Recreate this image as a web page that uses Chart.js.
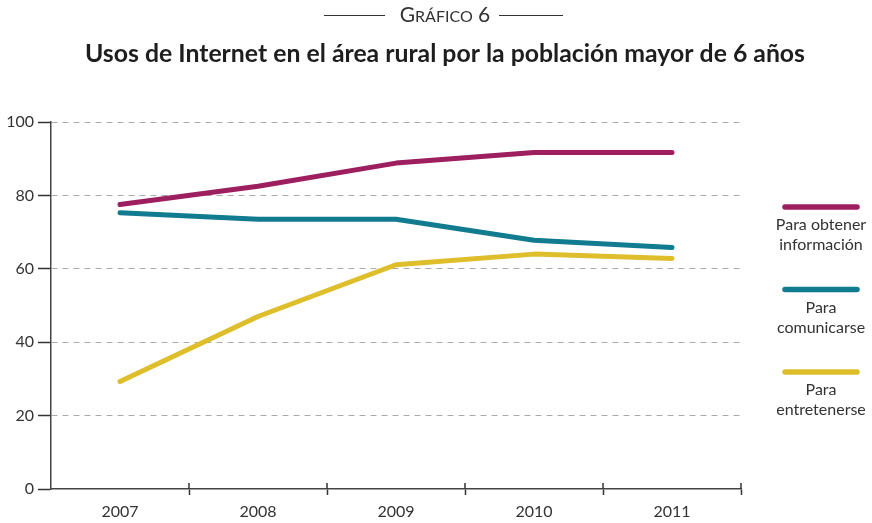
<!DOCTYPE html>
<html><head><meta charset="utf-8">
<script src="https://cdn.jsdelivr.net/npm/chart.js@4"></script>
<style>html,body{margin:0;padding:0;background:#fff}#wrap{width:872px;height:523px}</style>
</head><body><div id="wrap"><canvas id="c" width="872" height="523"></canvas></div>
<script>
const chartKicker = ['G', 'RÁFICO', ' 6'];
const chartTitle = 'Usos de Internet en el área rural por la población mayor de 6 años';
const years = ['2007', '2008', '2009', '2010', '2011'];
const seriesNames = [['Para obtener', 'información'], ['Para', 'comunicarse'], ['Para', 'entretenerse']];
const informacion = [77.5, 82.5, 88.8, 91.7, 91.7];
const comunicarse = [75.3, 73.5, 73.5, 67.8, 65.8];
const entretenerse = [29.3, 47.0, 61.1, 64.0, 62.8];
const yTicks = [0, 20, 40, 60, 80, 100];
const colors = ['#9d1f5f', '#117b8f', '#debe2a'];

const FONT = 'Lato, "Open Sans", sans-serif';
const TEXT = '#333333';

const titlePlugin = {
  id: 'titles',
  afterDraw(chart) {
    const ctx = chart.ctx;
    ctx.save();
    ctx.fillStyle = TEXT;
    ctx.textBaseline = 'alphabetic';
    // kicker in small caps
    const big = '21px ' + FONT, small = '16px ' + FONT;
    ctx.font = big; const w0 = ctx.measureText(chartKicker[0]).width;
    ctx.font = small; const w1 = ctx.measureText(chartKicker[1]).width;
    ctx.font = big; const w2 = ctx.measureText(chartKicker[2]).width;
    const total = w0 + w1 + w2;
    const cx = 445, by = 22;
    let x = cx - total / 2;
    ctx.textAlign = 'left';
    ctx.font = big; ctx.fillText(chartKicker[0], x, by); x += w0;
    ctx.font = small; ctx.fillText(chartKicker[1], x, by); x += w1;
    ctx.font = big; ctx.fillText(chartKicker[2], x, by);
    ctx.strokeStyle = '#333'; ctx.lineWidth = 1;
    ctx.beginPath();
    ctx.moveTo(324, 15.5); ctx.lineTo(385, 15.5);
    ctx.moveTo(499, 15.5); ctx.lineTo(563, 15.5);
    ctx.stroke();
    // title
    ctx.fillStyle = '#1e1e1e';
    ctx.font = 'bold 24.8px ' + FONT;
    ctx.textAlign = 'center';
    ctx.fillText(chartTitle, cx, 62);
    ctx.restore();
  }
};

const legendPlugin = {
  id: 'sideLegend',
  afterDraw(chart) {
    const ctx = chart.ctx;
    const area = chart.chartArea;
    const cx = area.right + 80;
    ctx.save();
    chart.data.datasets.forEach((ds, i) => {
      const y = 207 + i * 82.5;
      ctx.strokeStyle = ds.borderColor;
      ctx.lineWidth = 5.5;
      ctx.lineCap = 'round';
      ctx.beginPath();
      ctx.moveTo(cx - 36, y); ctx.lineTo(cx + 36, y);
      ctx.stroke();
      ctx.fillStyle = TEXT;
      ctx.font = '16px ' + FONT;
      ctx.textAlign = 'center';
      ctx.textBaseline = 'middle';
      ds.label.forEach((line, j) => ctx.fillText(line, cx, y + 18 + j * 20));
    });
    ctx.restore();
  }
};

const xTickPlugin = {
  id: 'xTicksUp',
  afterDraw(chart) {
    const xs = chart.scales.x;
    const ctx = chart.ctx;
    const b = chart.chartArea.bottom;
    ctx.save();
    ctx.strokeStyle = '#333'; ctx.lineWidth = 1.5;
    ctx.beginPath();
    for (let i = 1; i <= years.length; i++) {
      const px = i < years.length
        ? (xs.getPixelForValue(i - 1) + xs.getPixelForValue(i)) / 2
        : xs.getPixelForValue(i - 1) + (xs.getPixelForValue(1) - xs.getPixelForValue(0)) / 2;
      ctx.moveTo(px, b - 6); ctx.lineTo(px, b);
    }
    ctx.stroke();
    ctx.restore();
  }
};

new Chart(document.getElementById('c'), {
  type: 'line',
  data: {
    labels: years,
    datasets: [
      { label: seriesNames[0], data: informacion, borderColor: colors[0] },
      { label: seriesNames[1], data: comunicarse, borderColor: colors[1] },
      { label: seriesNames[2], data: entretenerse, borderColor: colors[2] }
    ]
  },
  options: {
    responsive: false,
    animation: false,
    devicePixelRatio: 1,
    layout: { padding: { top: 122, right: 131, left: 0, bottom: 0 } },
    elements: {
      line: { borderWidth: 5, borderCapStyle: 'round', borderJoinStyle: 'round', tension: 0, fill: false },
      point: { radius: 0, hoverRadius: 0 }
    },
    plugins: { legend: { display: false }, tooltip: { enabled: false }, title: { display: false } },
    scales: {
      x: {
        type: 'category',
        offset: true,
        afterFit(s) { s.height = 34; },
        grid: {
          display: true,
          offset: true,
          drawOnChartArea: false,
          drawTicks: true,
          tickLength: 6,
          tickWidth: 1.5,
          tickColor: (c) => (c.index === 0 ? 'rgba(0,0,0,0)' : '#333')
        },
        border: { display: true, color: '#444', width: 1.5 },
        ticks: { color: TEXT, font: { family: FONT, size: 16 }, padding: 7, maxRotation: 0 }
      },
      y: {
        min: 0,
        max: 100,
        afterBuildTicks(s) { s.ticks = yTicks.map(v => ({ value: v })); },
        afterFit(s) { s.width = 51; },
        grid: {
          color: (c) => (c.tick && c.tick.value === 0 ? 'rgba(0,0,0,0)' : '#aaaaaa'),
          lineWidth: 1,
          drawTicks: true,
          tickLength: 13,
          tickWidth: 1.5,
          tickColor: '#333'
        },
        border: { display: true, color: '#444', width: 1.5, dash: [6, 5] },
        ticks: { color: TEXT, font: { family: FONT, size: 16 }, padding: 4 }
      }
    }
  },
  plugins: [titlePlugin, legendPlugin, xTickPlugin]
});
</script>
</body></html>
